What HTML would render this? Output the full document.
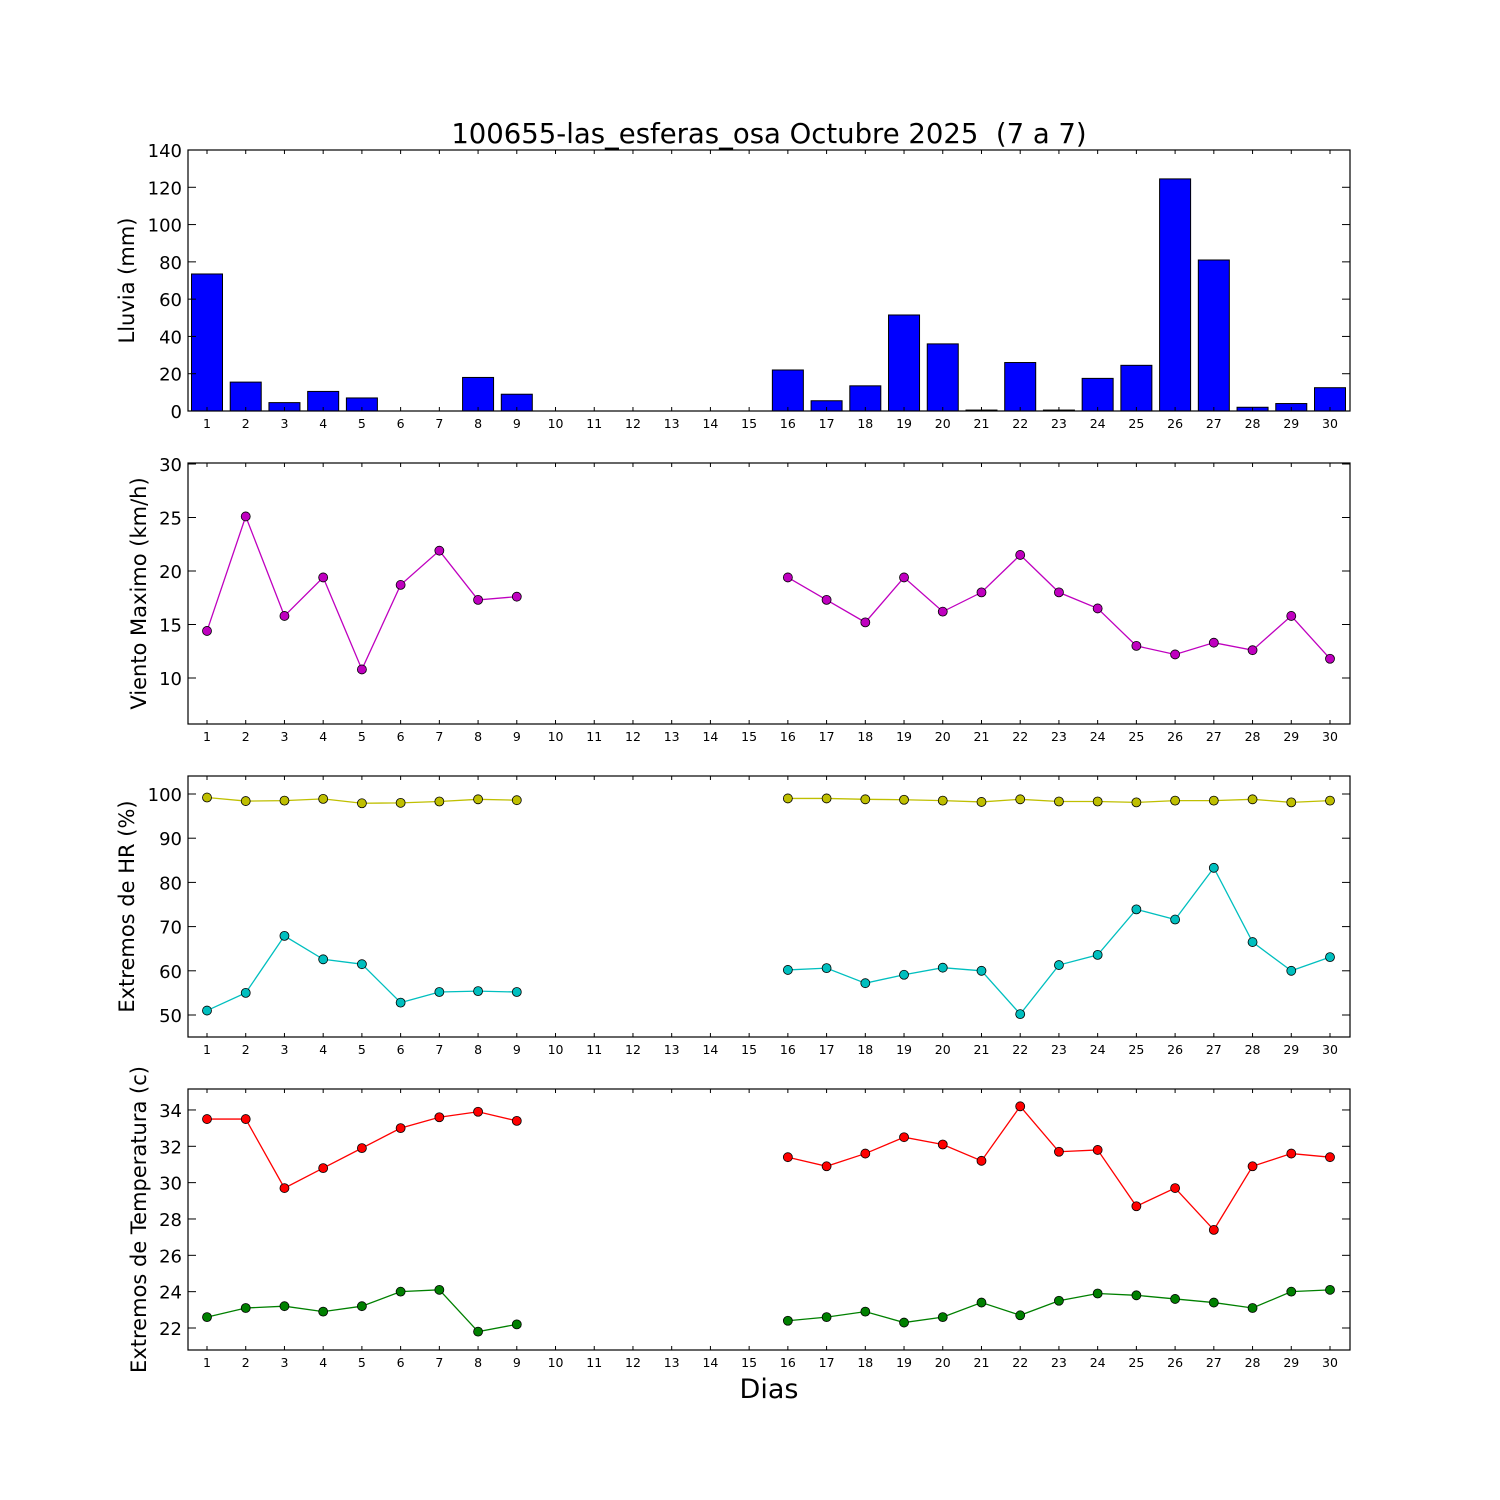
<!DOCTYPE html>
<html><head><meta charset="utf-8"><style>body{margin:0;background:#fff}svg{display:block}</style></head>
<body>
<svg id="s" width="1500" height="1500" xmlns="http://www.w3.org/2000/svg" font-family="DejaVu Sans, Liberation Sans, sans-serif">
<rect width="1500" height="1500" fill="#fff"/>
</svg>
<script>
const S=document.getElementById('s');let h='';
const L=188,R=1350;const X=d=>207+(d-1)*(1123/29);
const days=[1,2,3,4,5,6,7,8,9,16,17,18,19,20,21,22,23,24,25,26,27,28,29,30];
function panel(top,bot,ticks,Y,label,lx){
 for(let d=1;d<=30;d++){const x=X(d);
  h+=`<line x1="${x}" y1="${bot}" x2="${x}" y2="${bot-4}" stroke="#000"/><line x1="${x}" y1="${top}" x2="${x}" y2="${top+4}" stroke="#000"/>`;
  h+=`<text x="${x}" y="${bot+17}" font-size="12.5" text-anchor="middle">${d}</text>`;}
 for(const t of ticks){const y=Y(t);
  h+=`<line x1="${L}" y1="${y}" x2="${L+8}" y2="${y}" stroke="#000"/><line x1="${R}" y1="${y}" x2="${R-8}" y2="${y}" stroke="#000"/>`;
  h+=`<text x="${L-6}" y="${y+7}" font-size="18" text-anchor="end">${t}</text>`;}
 const cy=(top+bot)/2;
 h+=`<text x="${lx}" y="${cy}" font-size="21" text-anchor="middle" transform="rotate(-90 ${lx} ${cy})">${label}</text>`;
}
function series(vals,Y,color){
 const segs=[days.slice(0,9),days.slice(9)];
 segs.forEach((sg,si)=>{const off=si?9:0;
  h+=`<polyline fill="none" stroke="${color}" stroke-width="1.3" points="${sg.map((d,i)=>X(d)+','+Y(vals[off+i])).join(' ')}"/>`;});
 days.forEach((d,i)=>h+=`<circle cx="${X(d)}" cy="${Y(vals[i])}" r="4.5" fill="${color}" stroke="#000" stroke-width="0.8"/>`);
}
const rain={1:73.5,2:15.5,3:4.5,4:10.5,5:7,6:0,7:0,8:18,9:9,16:22,17:5.5,18:13.5,19:51.5,20:36,21:0.5,22:26,23:0.5,24:17.5,25:24.5,26:124.5,27:81,28:2,29:4,30:12.5};
const Y1=v=>411-v*261/140;
for(const d in rain){const x=X(+d)-15.5;const y=Y1(rain[d]);h+=`<rect x="${x}" y="${y}" width="31" height="${411-y}" fill="#0000ff" stroke="#000" stroke-width="1"/>`;}
panel(150,411,[0,20,40,60,80,100,120,140],Y1,'Lluvia (mm)',134);
const Y2=v=>678-(v-10)*10.7;
series([14.4,25.1,15.8,19.4,10.8,18.7,21.9,17.3,17.6,19.4,17.3,15.2,19.4,16.2,18,21.5,18,16.5,13,12.2,13.3,12.6,15.8,11.8],Y2,'#bf00bf');
panel(463,724,[10,15,20,25,30],Y2,'Viento Maximo (km/h)',146);
const Y3=v=>1015-(v-50)*4.42;
series([99.2,98.4,98.5,98.9,97.9,98,98.3,98.8,98.6,99,99,98.8,98.7,98.5,98.2,98.8,98.3,98.3,98.1,98.5,98.5,98.8,98.1,98.5],Y3,'#bfbf00');
series([51,55,67.9,62.6,61.5,52.8,55.2,55.4,55.2,60.2,60.6,57.2,59.1,60.7,60,50.2,61.3,63.6,73.9,71.6,83.3,66.5,60,63.1],Y3,'#00bfbf');
panel(776,1037,[50,60,70,80,90,100],Y3,'Extremos de HR (%)',134);
const Y4=v=>1328-(v-22)*18.17;
series([33.5,33.5,29.7,30.8,31.9,33,33.6,33.9,33.4,31.4,30.9,31.6,32.5,32.1,31.2,34.2,31.7,31.8,28.7,29.7,27.4,30.9,31.6,31.4],Y4,'#ff0000');
series([22.6,23.1,23.2,22.9,23.2,24,24.1,21.8,22.2,22.4,22.6,22.9,22.3,22.6,23.4,22.7,23.5,23.9,23.8,23.6,23.4,23.1,24,24.1],Y4,'#008000');
panel(1089,1350,[22,24,26,28,30,32,34],Y4,'Extremos de Temperatura (c)',146);
[[150,411],[463,724],[776,1037],[1089,1350]].forEach(([t,b])=>h+=`<rect x="${L}" y="${t}" width="${R-L}" height="${b-t}" fill="none" stroke="#000" stroke-width="1.2"/>`);
h+=`<text x="769" y="143" font-size="27.5" text-anchor="middle">100655-las_esferas_osa Octubre 2025&#160; (7 a 7)</text>`;
h+=`<text x="769" y="1398" font-size="27" text-anchor="middle">Dias</text>`;
S.insertAdjacentHTML('beforeend',h);
</script>
</body></html>
